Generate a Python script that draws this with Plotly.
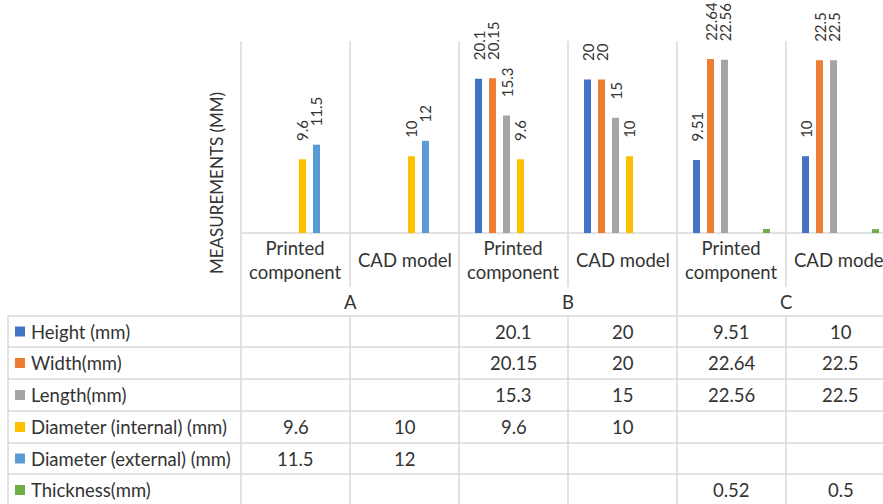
import plotly.graph_objects as go

# ---------------- data ----------------
GROUPS = ["A", "B", "C"]
CATEGORIES = ["Printed component", "CAD model",
              "Printed component", "CAD model",
              "Printed component", "CAD model"]
SERIES_NAMES = ["Height (mm)", "Width(mm)", "Length(mm)",
                "Diameter (internal) (mm)", "Diameter (external) (mm)", "Thickness(mm)"]
HEIGHT = [None, None, 20.1, 20, 9.51, 10]
WIDTH = [None, None, 20.15, 20, 22.64, 22.5]
LENGTH = [None, None, 15.3, 15, 22.56, 22.5]
DIAM_INT = [9.6, 10, 9.6, 10, None, None]
DIAM_EXT = [11.5, 12, None, None, None, None]
THICKNESS = [None, None, None, None, 0.52, 0.5]
SERIES = [HEIGHT, WIDTH, LENGTH, DIAM_INT, DIAM_EXT, THICKNESS]
COLORS = ["#4472C4", "#ED7D31", "#A5A5A5", "#FFC000", "#5B9BD5", "#70AD47"]
SHOW_LABELS = [True, True, True, True, True, False]

# ---------------- layout constants (pixels) ----------------
W, H = 883, 504
PL, PR = 241, 883          # plot left / right
PT, PB = 41, 233           # plot top / bottom (baseline)
CAT_W = 109                # px per category
FONT = "Lato, 'Open Sans', sans-serif"
TXT = "#333333"
GRID = "#D9D9D9"
LW = 1.5


def px(x):
    return (x - PL) / (PR - PL)


def py(y):
    return (PB - y) / (PB - PT)


xs = list(range(len(CATEGORIES)))

fig = go.Figure()
for name, vals, col, lab in zip(SERIES_NAMES, SERIES, COLORS, SHOW_LABELS):
    fig.add_trace(go.Bar(
        x=xs, y=vals, name=name, marker=dict(color=col, line=dict(width=0)),
        text=[("\u00a0" * 4 + f"{v:g}") if (v is not None and lab) else "" for v in vals],
        textposition="outside", textangle=-90, constraintext="none", cliponaxis=False,
        textfont=dict(family=FONT, size=15, color=TXT),
        showlegend=False, hoverinfo="skip",
    ))

shapes = []
annots = []


def hline(y, x0, x1):
    shapes.append(dict(type="line", xref="paper", yref="paper",
                       x0=px(x0), x1=px(x1), y0=py(y), y1=py(y),
                       line=dict(color=GRID, width=LW), layer="below"))


def vline(x, y0, y1):
    shapes.append(dict(type="line", xref="paper", yref="paper",
                       x0=px(x), x1=px(x), y0=py(y0), y1=py(y1),
                       line=dict(color=GRID, width=LW), layer="below"))


n = len(CATEGORIES)
bounds = [PL + i * CAT_W for i in range(n + 1)]
# vertical grid in plot and axis label area
for i, bx in enumerate(bounds):
    if bx > W + 5:
        continue
    vline(bx, PT, PB)
    if i % 2 == 0:
        vline(bx, PB, 316)
    else:
        vline(bx, PB, 287)

# table rows
ROWS = [316, 347, 379, 411, 443, 474, 506]
for ry in ROWS:
    hline(ry, 8, W + 2)
hline(PB, PL, W + 2)
vline(8, 316, 506)
for bx in bounds:
    if bx <= W + 5:
        vline(bx, 316, 506)

# category labels
for i, c in enumerate(CATEGORIES):
    cx = PL + (i + 0.5) * CAT_W
    label = c.replace(" ", "<br>") if c.startswith("Printed") else c
    annots.append(dict(x=px(cx), y=py(260), xref="paper", yref="paper", text=label,
                       showarrow=False, xanchor="center", yanchor="middle",
                       font=dict(family=FONT, size=18.5, color=TXT)))
for g, name in enumerate(GROUPS):
    cx = PL + (2 * g + 1) * CAT_W
    annots.append(dict(x=px(cx), y=py(302), xref="paper", yref="paper", text=name,
                       showarrow=False, xanchor="center", yanchor="middle",
                       font=dict(family=FONT, size=18.5, color=TXT)))

# y-axis title
annots.append(dict(x=px(216), y=py(183), xref="paper", yref="paper", text="MEASUREMENTS (MM)",
                   showarrow=False, textangle=-90, xanchor="center", yanchor="middle",
                   font=dict(family=FONT, size=17, color=TXT)))

# table body
for r, (name, vals, col) in enumerate(zip(SERIES_NAMES, SERIES, COLORS)):
    cy = (ROWS[r] + ROWS[r + 1]) / 2
    shapes.append(dict(type="rect", xref="paper", yref="paper",
                       x0=px(15), x1=px(25), y0=py(cy - 5), y1=py(cy + 5),
                       fillcolor=col, line=dict(width=0)))
    annots.append(dict(x=px(29), y=py(cy), xref="paper", yref="paper", text=name,
                       showarrow=False, xanchor="left", yanchor="middle",
                       font=dict(family=FONT, size=18.5, color=TXT)))
    for i, v in enumerate(vals):
        if v is None:
            continue
        cx = PL + (i + 0.5) * CAT_W
        annots.append(dict(x=px(cx), y=py(cy), xref="paper", yref="paper", text=f"{v:g}",
                           showarrow=False, xanchor="center", yanchor="middle",
                           font=dict(family=FONT, size=18.5, color=TXT)))

fig.update_layout(
    width=W, height=H, autosize=False,
    margin=dict(l=PL, r=W - PR, t=PT, b=H - PB, pad=0),
    paper_bgcolor="white", plot_bgcolor="white",
    barmode="group", bargap=0.23, bargroupgap=0.5,
    xaxis=dict(range=[-0.5, -0.5 + (PR - PL) / CAT_W], showticklabels=False, showgrid=False,
               zeroline=False, showline=False, ticks="", fixedrange=True),
    yaxis=dict(range=[0, 25], showticklabels=False, showgrid=False, zeroline=False,
               showline=False, ticks="", fixedrange=True),
    shapes=shapes, annotations=annots, showlegend=False,
)

fig.write_html("out.html", config={"displayModeBar": False},
               post_script="document.body.style.margin='0';document.body.style.overflow='hidden';")
